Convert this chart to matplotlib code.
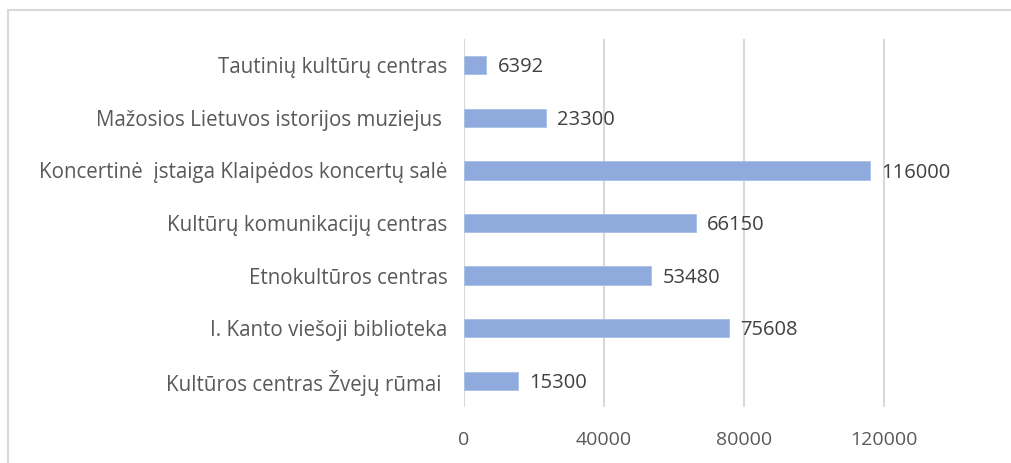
import matplotlib.pyplot as plt
from matplotlib.patches import Rectangle

# Data (bottom to top as drawn)
categories = [
    'Kultūros centras Žvejų rūmai ',
    'I. Kanto viešoji biblioteka',
    'Etnokultūros centras',
    'Kultūrų komunikacijų centras',
    'Koncertinė  įstaiga Klaipėdos koncertų salė',
    'Mažosios Lietuvos istorijos muziejus ',
    'Tautinių kultūrų centras',
]
values = [15300, 75608, 53480, 66150, 116000, 23300, 6392]
xticks = [0, 40000, 80000, 120000]

plt.rcParams['font.family'] = ['Open Sans', 'DejaVu Sans']

fig = plt.figure(figsize=(10.11, 4.63), dpi=100)
# chart frame (runs off the right and bottom edges)
fig.patches.append(Rectangle((8 / 1011, -0.1), 1.1, 1 - 10 / 463 + 0.1,
                             transform=fig.transFigure, fill=False,
                             edgecolor='#d9d9d9', linewidth=1.5))

ax = fig.add_axes([464 / 1011, 1 - 407 / 463, 490 / 1011, 368 / 463])
y = range(len(categories))
ax.barh(y, values, height=0.35, color='#8faadc', edgecolor='#a9bfe6', linewidth=0.6, zorder=3)

for i, v in enumerate(values):
    ax.text(v + 3300, i - 0.04, str(v), va='center', ha='left', fontsize=14.5, color='#404040')

ax.set_xlim(0, 140000)
ax.set_ylim(-0.5, len(categories) - 0.5)
ax.set_xticks(xticks)
ax.set_xticklabels([str(t) for t in xticks], fontsize=14, color='#595959')
ax.set_yticks(list(y))
ax.set_yticklabels(categories, fontsize=14.8, color='#595959')
ax.tick_params(axis='both', length=0)
ax.tick_params(axis='x', pad=17)
ax.tick_params(axis='y', pad=12)
ax.grid(axis='x', color='#d9d9d9', linewidth=1.5, zorder=0)
for s in ax.spines.values():
    s.set_visible(False)

fig.savefig('out.png', dpi=100, facecolor='white')
